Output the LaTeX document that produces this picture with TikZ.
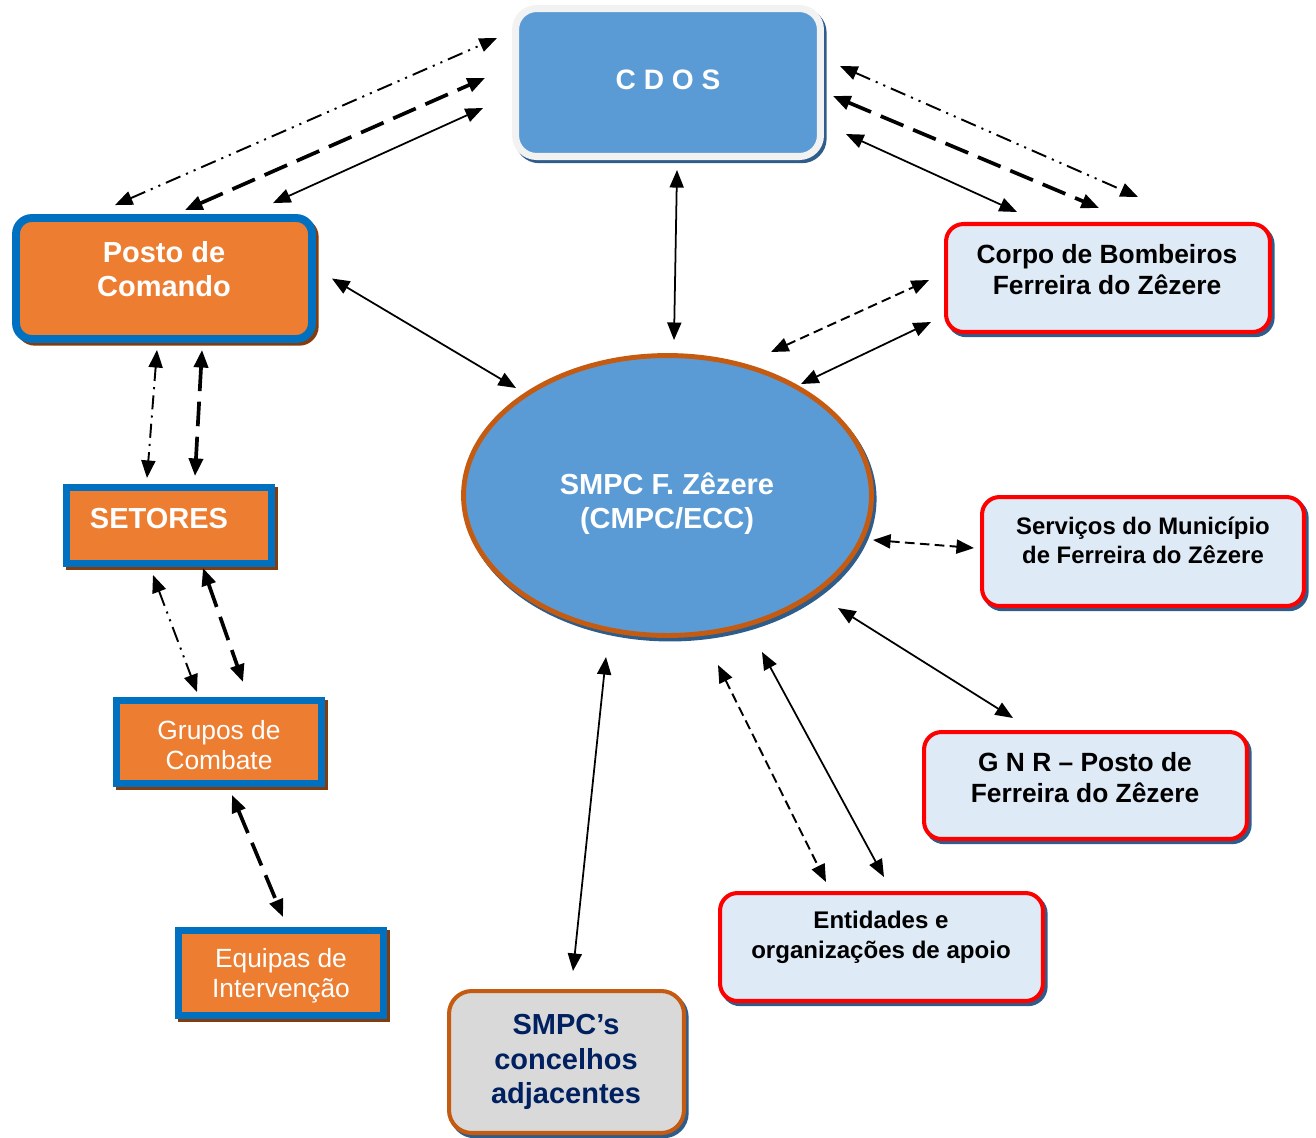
\documentclass[tikz,border=0pt]{standalone}
\usepackage{fontspec}
\setmainfont{Liberation Sans}
\usetikzlibrary{arrows.meta,shapes.geometric,shadows}
\definecolor{azulcdos}{HTML}{5B9BD5}
\definecolor{laranja}{HTML}{ED7D31}
\definecolor{azulborda}{HTML}{0070C0}
\definecolor{castanho}{HTML}{843C0C}
\definecolor{telha}{HTML}{C55A11}
\definecolor{azulclaro}{HTML}{DEEAF6}
\definecolor{sombra}{HTML}{2E5D8C}
\definecolor{cinza}{HTML}{D9D9D9}
\definecolor{marinho}{HTML}{002060}
\definecolor{bordaclara}{HTML}{F2F2F2}
\definecolor{vermelho}{HTML}{FF0000}
\tikzset{
  laranjabox/.style={draw=azulborda,fill=laranja,line width=4pt,inner sep=0pt,
    general shadow={draw=castanho,fill=castanho,line width=4pt,shadow xshift=1.8pt,shadow yshift=-1.8pt}},
  vermbox/.style={draw=vermelho,fill=azulclaro,line width=2.3pt,rounded corners=10pt,inner sep=0pt,
    minimum width=6.46cm,minimum height=2.16cm,
    general shadow={draw=sombra,fill=sombra,line width=2.3pt,shadow xshift=1.5pt,shadow yshift=-1.8pt}},
  txtbranco/.style={text=white,align=center,inner sep=0pt,font=\bfseries\fontsize{16.5pt}{19.5pt}\selectfont},
  txtfino/.style={text=white,align=center,inner sep=0pt,font=\fontsize{15pt}{17.3pt}\selectfont},
  txtpreto/.style 2 args={text=black,align=center,inner sep=0pt,font=\bfseries\fontsize{#1}{#2}\selectfont},
  solida/.style={<->,line width=1pt},
  tracejada/.style={<->,line width=1.1pt,dash pattern=on 5.5pt off 3pt},
  longa/.style={<->,line width=2.1pt,dash pattern=on 14pt off 6pt},
  pontos/.style={<->,line width=1.1pt,dash pattern=on 9pt off 3.5pt on 1.2pt off 3.5pt on 1.2pt off 3.5pt},
  tracoponto/.style={<->,line width=1.1pt,dash pattern=on 8pt off 3.5pt on 1.2pt off 3.5pt}
}
\begin{document}
\begin{tikzpicture}[x=0.02cm,y=-0.02cm,>={Triangle[length=10pt,width=8pt]}]
\useasboundingbox (0,0) rectangle (1316,1137);
% caixas
\node[draw=bordaclara,fill=azulcdos,line width=4pt,rounded corners=12pt,inner sep=0pt,minimum width=6.1cm,minimum height=2.96cm,
  general shadow={draw=sombra,fill=sombra,line width=4pt,shadow xshift=1.5pt,shadow yshift=-1.8pt}] (cdos) at (668,82.5) {};
\node[txtbranco,font=\bfseries\fontsize{16pt}{19.5pt}\selectfont] (cdosT) at (668,80) {C D O S};
\node[laranjabox,line width=4.5pt,rounded corners=9pt,minimum width=5.92cm,minimum height=2.42cm] (posto) at (164,278.5) {};
\node[txtbranco] (postoT) at (164,269) {Posto de\\Comando};
\node[laranjabox,minimum width=4.1cm,minimum height=1.52cm] (setores) at (169,525.5) {};
\node[txtbranco] (setoresT) at (159,519) {SETORES};
\node[laranjabox,minimum width=4.1cm,minimum height=1.66cm] (grupos) at (219,742) {};
\node[txtfino] (gruposT) at (219,745) {Grupos de\\Combate};
\node[laranjabox,minimum width=4.1cm,minimum height=1.7cm] (equipas) at (281,973) {};
\node[txtfino] (equipasT) at (281,975.5) {Equipas de\\Intervenção};
\node[ellipse,draw=telha,fill=azulcdos,line width=2.8pt,inner sep=0pt,minimum width=8.16cm,minimum height=5.6cm,
  general shadow={draw=sombra,fill=sombra,line width=2.8pt,shadow xshift=1.5pt,shadow yshift=-2pt}] (smpc) at (667.5,495.5) {};
\node[txtbranco,font=\bfseries\fontsize{16.5pt}{19.5pt}\selectfont] (smpcT) at (667,504) {SMPC F. Zêzere\\(CMPC/ECC)};
\node[vermbox,minimum width=6.48cm] (bombeiros) at (1108,278) {};
\node[txtpreto={15pt}{17.6pt}] (bombeirosT) at (1107,270) {Corpo de Bombeiros\\Ferreira do Zêzere};
\node[vermbox,minimum width=6.44cm,minimum height=2.18cm] (servicos) at (1143,551.5) {};
\node[txtpreto={13.6pt}{16.5pt}] (servicosT) at (1143,540.5) {Serviços do Município\\de Ferreira do Zêzere};
\node[vermbox,minimum height=2.14cm] (gnr) at (1085.5,785.5) {};
\node[txtpreto={15pt}{17.6pt}] (gnrT) at (1085,777.5) {G N R – Posto de\\Ferreira do Zêzere};
\node[vermbox] (entidades) at (881.5,947) {};
\node[txtpreto={13.7pt}{17pt}] (entidadesT) at (881,937.5) {Entidades e\\organizações de apoio};
\node[vermbox,draw=telha,fill=cinza,rounded corners=13pt,minimum width=4.7cm,minimum height=2.84cm] (adjacentes) at (566.5,1062) {};
\node[txtpreto={16.5pt}{19.8pt},text=marinho] (adjacentesT) at (566,1062) {SMPC’s\\concelhos\\adjacentes};
% ligacoes
\draw[pontos] ([shift={(-49,-9)}]posto.north) -- ([shift={(-15,-44.5)}]cdos.west);
\draw[longa] ([shift={(21,-4)}]posto.north) -- ([shift={(-27,-4.5)}]cdos.west);
\draw[solida] ([shift={(109,-11)}]posto.north) -- ([shift={(-29,25.5)}]cdos.west);
\draw[pontos] ([shift={(16,-16.5)}]cdos.east) -- ([shift={(30,-25)}]bombeiros.north);
\draw[longa] ([shift={(9,13.5)}]cdos.east) -- ([shift={(-9,-14)}]bombeiros.north);
\draw[solida] ([shift={(22,51.5)}]cdos.east) -- ([shift={(-91,-10)}]bombeiros.north);
\draw[solida] ([shift={(9,10)}]cdos.south) -- ([shift={(6.5,-13)}]smpc.north);
\draw[solida] ([shift={(16,0)}]posto.east) -- ([shift={(-151.5,-107.5)}]smpc.center);
\draw[tracejada] ([shift={(103.5,-143.5)}]smpc.center) -- ([shift={(-15,2)}]bombeiros.west);
\draw[solida] ([shift={(133.5,-111.5)}]smpc.center) -- ([shift={(-13,44)}]bombeiros.west);
\draw[tracejada] ([shift={(205.5,44.5)}]smpc.center) -- ([shift={(-6,-3.5)}]servicos.west);
\draw[solida] ([shift={(170.5,112.5)}]smpc.center) -- ([shift={(-72.5,-12)}]gnr.north);
\draw[tracejada] ([shift={(50.5,169.5)}]smpc.center) -- ([shift={(-55.5,-9)}]entidades.north);
\draw[solida] ([shift={(94.5,156.5)}]smpc.center) -- ([shift={(2.5,-14)}]entidades.north);
\draw[solida] ([shift={(-61.5,161.5)}]smpc.center) -- ([shift={(6.5,-18)}]adjacentes.north);
\draw[tracoponto] ([shift={(-7,7)}]posto.south) -- ([shift={(-22,-6)}]setores.north);
\draw[longa] ([shift={(38,7)}]posto.south) -- ([shift={(26,-8)}]setores.north);
\draw[pontos] ([shift={(-16,8)}]setores.south) -- ([shift={(-22,-5)}]grupos.north);
\draw[longa] ([shift={(34,1)}]setores.south) -- ([shift={(24,-15)}]grupos.north);
\draw[longa] ([shift={(13,8)}]grupos.south) -- ([shift={(2,-10)}]equipas.north);
\end{tikzpicture}
\end{document}
